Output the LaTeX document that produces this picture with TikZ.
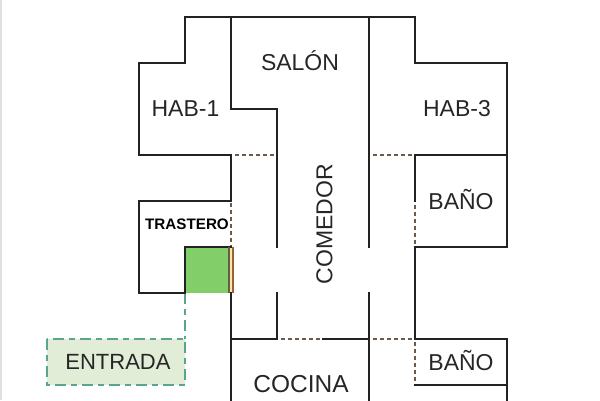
\documentclass[tikz,border=0pt]{standalone}
\usepackage{fontspec}
\setmainfont{Liberation Sans}
\definecolor{wall}{HTML}{222222}
\definecolor{door}{HTML}{6B5A48}
\definecolor{greenfill}{HTML}{82CF6A}
\definecolor{entryfill}{HTML}{E2EDD8}
\definecolor{entryline}{HTML}{5AA688}
\tikzset{
  wallline/.style={draw=wall,line width=2pt,line cap=rect},
  doorh/.style={draw=door,line width=1.6pt,dash pattern=on 3.5pt off 3.5pt},
  roomlabel/.style={font=\fontsize{23}{26}\selectfont,text=black!85,inner sep=0pt},
  entrydash/.style={draw=entryline,line width=1.8pt,dash pattern=on 11pt off 5pt on 6pt off 5pt},
}
\begin{document}
\begin{tikzpicture}[x=1pt,y=-1pt]
\useasboundingbox (0,0) rectangle (600,400);
\fill[black!12] (0,0) rectangle (2,400);
% green store and entrance
\fill[greenfill] (185,247) rectangle (229,293);
\fill[yellow!40!orange!30] (229,247) rectangle (233,293);
\node[draw=none,fill=entryfill,minimum width=138pt,minimum height=46pt,inner sep=0pt] (entrada) at (116,362) {};
\draw[entrydash] (47,339) rectangle (185,385);
\draw[entrydash] (185,293) -- (185,339);
% doors
\draw[doorh] (235,155) -- (277,155);
\draw[doorh] (373,155) -- (415,155);
\draw[doorh] (231,203) -- (231,247);
\draw[doorh] (415,205) -- (415,247);
\draw[doorh] (281,339) -- (323,339);
\draw[doorh] (373,339) -- (415,339);
\draw[doorh] (415,342) -- (415,385);
% walls
\draw[wallline] (231,109) -- (277,109) -- (277,247);
\draw[wallline] (231,17) -- (231,109);
\draw[wallline] (139,63) -- (185,63) -- (185,17) -- (415,17) -- (415,63) -- (507,63) -- (507,247) -- (415,247);
\draw[wallline] (139,63) -- (139,155) -- (231,155) -- (231,201) -- (139,201) -- (139,293) -- (185,293) -- (185,247) -- (231,247);
\draw[wallline] (369,17) -- (369,247);
\draw[wallline] (369,293) -- (369,400);
\draw[wallline] (415,155) -- (507,155);
\draw[wallline] (415,155) -- (415,201);
\draw[wallline] (415,247) -- (415,339) -- (507,339) -- (507,400);
\draw[wallline] (415,385) -- (507,385);
\draw[wallline] (277,293) -- (277,339);
\draw[wallline] (231,293) -- (231,400);
\draw[wallline] (231,339) -- (277,339);
\draw[wallline] (323,339) -- (369,339);
% door leaf lines drawn over the wall ends
\draw[door,line width=1.3pt] (229,247) -- (229,293);
\draw[door!70!orange,line width=1.3pt] (233,247) -- (233,293);
% labels
\node[roomlabel] (salon) at (300,61) {SALÓN};
\node[roomlabel] (hab1) at (185.5,108.5) {HAB-1};
\node[roomlabel] (hab3) at (457,108.5) {HAB-3};
\node[roomlabel,rotate=90] (comedor) at (324.5,224) {COMEDOR};
\node[roomlabel] (bano1) at (461,199.5) {BAÑO};
\node[roomlabel] (bano2) at (461,360.5) {BAÑO};
\node[roomlabel,font=\fontsize{24.5}{26}\selectfont] (cocina) at (301,384.5) {COCINA};
\node[roomlabel,font=\fontsize{22}{26}\selectfont] (ent) at (118,362) {ENTRADA};
\node[font=\bfseries\fontsize{15.2}{17}\selectfont,inner sep=0pt] (tras) at (187,224) {TRASTERO};
\end{tikzpicture}
\end{document}
